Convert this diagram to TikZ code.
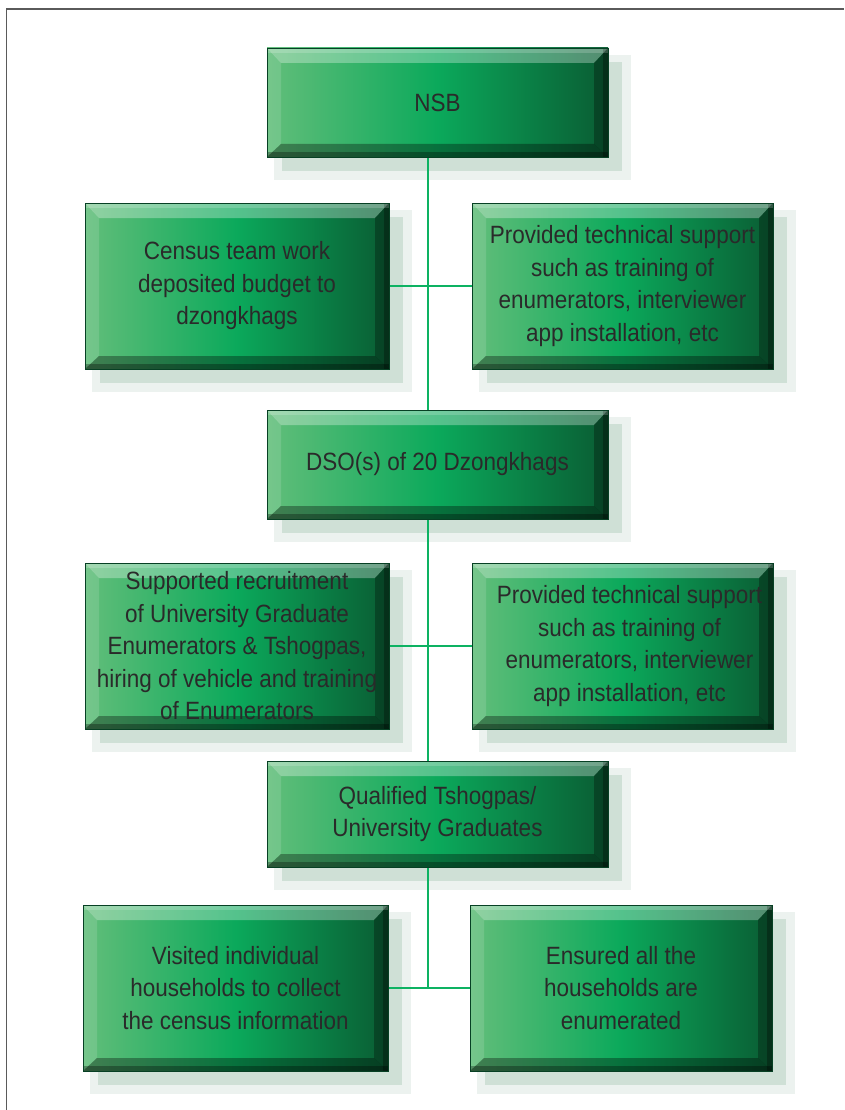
\documentclass[tikz,border=0pt]{standalone}
\usepackage{fontspec}
\setmainfont{Liberation Sans}[FakeStretch=0.9]
\usetikzlibrary{backgrounds}
\definecolor{gL}{HTML}{62BE7A}
\definecolor{gM}{HTML}{0BA95B}
\definecolor{gR}{HTML}{0A5C33}
\definecolor{shIn}{HTML}{CFE0D6}
\definecolor{shOut}{HTML}{ECF2EF}
\definecolor{lineG}{HTML}{0DB262}
\definecolor{txt}{HTML}{2A2A2A}
\definecolor{frameG}{HTML}{5A5A5A}
\tikzset{
  gbox/.style={rectangle, inner sep=0pt, outer sep=0pt, align=center,
    text=txt, font=\fontsize{25pt}{32.5pt}\selectfont,
    left color=gL, right color=gR, middle color=gM,
    draw=gR!70!black, line width=0.7pt,
    path picture={
      \coordinate (pnw) at (path picture bounding box.north west);
      \coordinate (pne) at (path picture bounding box.north east);
      \coordinate (psw) at (path picture bounding box.south west);
      \coordinate (pse) at (path picture bounding box.south east);
      \fill[white, opacity=0.3] (pnw) -- (pne) -- ([xshift=-14pt,yshift=-15pt]pne) -- ([xshift=14pt,yshift=-15pt]pnw) -- cycle;
      \fill[white, opacity=0.13] (pnw) -- ([xshift=14pt,yshift=-15pt]pnw) -- ([xshift=14pt,yshift=13pt]psw) -- (psw) -- cycle;
      \fill[black, opacity=0.33] (psw) -- ([xshift=14pt,yshift=13pt]psw) -- ([xshift=-14pt,yshift=13pt]pse) -- (pse) -- cycle;
      \fill[black, opacity=0.28] (pne) -- (pse) -- ([xshift=-14pt,yshift=13pt]pse) -- ([xshift=-14pt,yshift=-15pt]pne) -- cycle;
      \fill[black, opacity=0.3] (psw) rectangle ([yshift=5pt]pse);
      \fill[black, opacity=0.28] (pne) rectangle ([xshift=-5pt]pse);
      \fill[white, opacity=0.18] (pnw) rectangle ([yshift=-5pt]pne);
    }},
  conn/.style={draw=lineG, line width=1.7pt},
  framel/.style={draw=frameG, line width=1.3pt}
}
\begin{document}
\begin{tikzpicture}[x=1pt,y=-1pt]
\useasboundingbox (0,0) rectangle (844,1110);
\coordinate (fa) at (6.5,1110);
\coordinate (fb) at (6.5,9);
\coordinate (fc) at (844,9);
\coordinate (vx) at (428,0);

\node[gbox, minimum width=341pt, minimum height=109pt] (nsb) at (437.5,102.5) {NSB};
\node[gbox, minimum width=304pt, minimum height=166pt] (b1) at (237,286) {Census team work\\deposited budget to\\dzongkhags};
\node[gbox, minimum width=301pt, minimum height=166pt] (b2) at (622.5,286) {Provided technical support\\such as training of\\enumerators, interviewer\\app installation, etc};
\node[gbox, minimum width=341pt, minimum height=109pt] (dso) at (437.5,464.5) {DSO(s) of 20 Dzongkhags};
\node[gbox, minimum width=304pt, minimum height=166pt] (b3) at (237,646) {Supported recruitment\\of University Graduate\\Enumerators \& Tshogpas,\\hiring of vehicle and training\\of Enumerators};
\node[gbox, minimum width=301pt, minimum height=166pt] (b4) at (622.5,646) {\hspace*{14pt}Provided technical support\\\hspace*{14pt}such as training of\\\hspace*{14pt}enumerators, interviewer\\\hspace*{14pt}app installation, etc};
\node[gbox, minimum width=341pt, minimum height=106pt] (qual) at (437.5,814) {Qualified Tshogpas/\\University Graduates};
\node[gbox, minimum width=305pt, minimum height=166pt] (b5) at (235.5,988) {Visited individual\\households to collect\\the census information};
\node[gbox, minimum width=302pt, minimum height=166pt] (b6) at (621,988) {Ensured all the\\households are\\enumerated};

\begin{scope}[on background layer]
\fill[white] (0,0) rectangle (844,1110);
\draw[framel] (fa) -- (fb) -- (fc);
\foreach \n in {nsb,b1,b2,dso,b3,b4,qual,b5,b6}{
  \fill[shOut] ([xshift=7pt,yshift=-7pt]\n.north west) rectangle ([xshift=23pt,yshift=-23pt]\n.south east);
  \fill[shIn] ([xshift=15pt,yshift=-14pt]\n.north west) rectangle ([xshift=14pt,yshift=-14pt]\n.south east);
}
\draw[conn] (nsb.south -| vx) -- (dso.north -| vx);
\draw[conn] (b1.east) -- (b2.west);
\draw[conn] (dso.south -| vx) -- (qual.north -| vx);
\draw[conn] (b3.east) -- (b4.west);
\draw[conn] (qual.south -| vx) -- (b5.east -| vx);
\draw[conn] (b5.east) -- (b6.west);
\end{scope}
\end{tikzpicture}
\end{document}
